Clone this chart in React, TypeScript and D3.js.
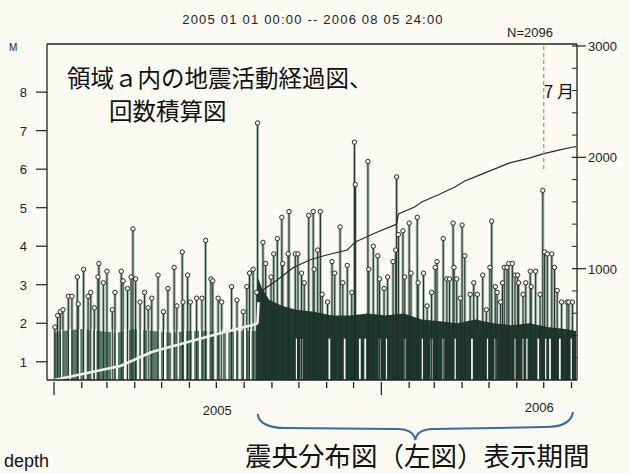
import React, { useRef, useEffect } from "react";
import * as d3 from "d3";

const START = new Date(2005, 0, 1);
const END_DAY = 582; // 2006-08-05 24:00
const MAINSHOCK_DAY = 227; // 2005-08-16

// [days since 2005-01-01, magnitude]
const STEMS: [number, number][] = [
  [1, 1.9], [4, 2.2], [7, 2.3], [10, 2.35], [16, 2.7], [20, 2.7], [26, 3.2], [27, 2.5],
  [33, 3.4], [38, 2.7], [41, 2.8], [45, 2.4], [49, 3.2], [50, 3.55], [55, 3.05], [59, 3.35],
  [65, 2.35], [68, 2.8], [75, 3.35], [77, 3.1], [82, 2.9], [86, 3.2], [88, 4.45], [91, 3.15],
  [96, 2.55], [101, 2.8], [105, 2.4], [109, 2.65], [116, 3.25], [122, 2.3], [127, 2.9],
  [134, 3.45], [137, 2.45], [143, 3.85], [144, 2.55], [149, 3.25], [152, 2.55], [159, 2.65],
  [165, 2.65], [169, 4.15], [175, 3.15], [177, 3.1], [183, 2.65], [187, 2.55], [198, 2.95],
  [204, 2.6], [211, 2.3], [215, 2.95], [218, 3.3], [222, 3.4], [226, 2.8],
  [227, 7.2], [233, 4.1], [236, 3.55], [242, 3.2], [245, 3.8], [249, 4.2], [254, 4.75],
  [255, 3.55], [262, 4.9], [261, 3.8], [269, 3.8], [272, 3.8], [276, 3.3], [279, 3.05],
  [284, 4.8], [289, 4.9], [290, 3.4], [294, 3.9], [297, 4.9], [299, 2.75], [305, 2.55],
  [310, 3.6], [313, 3.3], [319, 4.5], [322, 3.05], [327, 3.5], [332, 2.8], [335, 6.7],
  [336, 5.6], [350, 6.2], [351, 3.4], [356, 4.0], [361, 3.75], [363, 3.15], [368, 2.9],
  [372, 3.2], [378, 3.6], [382, 5.8], [381, 3.9], [384, 4.3], [389, 4.4], [391, 3.2],
  [396, 4.6], [398, 3.3], [405, 4.75], [406, 3.05], [412, 3.3], [416, 2.45], [421, 2.8],
  [425, 3.45], [427, 3.6], [434, 4.2], [438, 3.15], [441, 3.15], [445, 4.6], [446, 3.45],
  [449, 3.15], [453, 2.65], [455, 4.55], [458, 3.75], [464, 2.75], [468, 3.05], [472, 2.75],
  [478, 3.25], [482, 2.35], [486, 3.45], [488, 4.65], [492, 2.95], [494, 2.8], [498, 2.55],
  [500, 3.05], [502, 3.45], [505, 3.45], [507, 3.55], [511, 3.55], [514, 3.25], [517, 3.25],
  [518, 3.05], [523, 2.75], [526, 3.05], [531, 3.35], [532, 2.95], [537, 3.35], [542, 2.75],
  [545, 5.45], [547, 3.85], [550, 3.8], [555, 3.8], [558, 3.45], [561, 2.85], [566, 2.55],
  [572, 2.55], [574, 2.55], [578, 2.55],
];

// upper edge of the dense mass of small events
const MASS_PRE: [number, number][] = [
  [0, 1.75], [10, 1.8], [30, 1.85], [50, 1.8], [70, 1.75], [90, 1.85], [110, 1.8],
  [130, 1.75], [150, 1.8], [170, 1.8], [190, 1.75], [210, 1.8], [227, 1.8],
];
const MASS_POST: [number, number][] = [
  [227, 3.2], [232, 2.9], [240, 2.6], [255, 2.45], [270, 2.35], [290, 2.3], [310, 2.2],
  [330, 2.2], [350, 2.25], [370, 2.2], [390, 2.25], [410, 2.1], [430, 2.05], [450, 2.0],
  [470, 2.1], [490, 2.0], [510, 1.95], [530, 2.0], [550, 1.9], [570, 1.85], [582, 1.8],
];

// white gaps between events inside the dense mass
const GAPS_PRE = [9, 18, 28, 35, 42, 46, 65, 70, 79, 82, 94, 98, 105, 118, 124, 132, 138,
  146, 155, 163, 172, 180, 187, 193, 202, 207, 213, 219];
const GAPS_POST = [270, 276, 307, 324, 341, 347, 363, 371, 391, 411, 421, 434, 447, 466,
  483, 492, 514, 523, 527, 540, 548, 553, 564, 577];

// cumulative number of events
const CUM_DAYS = [0, 74, 109, 182, 226, 227, 228, 233, 249, 266, 285, 304, 327, 336, 358,
  380, 382, 384, 402, 410, 428, 447, 458, 475, 508, 531, 545, 564, 579, 582];
const CUM_COUNTS = [0, 126, 252, 413, 503, 520, 700, 809, 898, 1006, 1078, 1123, 1168, 1240,
  1321, 1393, 1402, 1491, 1554, 1599, 1662, 1734, 1788, 1842, 1950, 1995, 2031, 2067, 2093, 2096];

const M_TICKS = [1, 2, 3, 4, 5, 6, 7, 8];
const N_TICKS = [0, 1000, 2000, 3000];
const YEAR_LABELS: [string, number][] = [["2005", 182], ["2006", 541]];

const NUM_FONT = "'Liberation Sans', Arial, sans-serif";
const JP_FONT = "'Noto Sans CJK JP', sans-serif";

export default function App() {
  const svgRef = useRef<SVGSVGElement>(null);
  const width = 630;
  const height = 473;

  useEffect(() => {
    if (!svgRef.current) return;
    const svg = d3.select(svgRef.current);
    svg.selectAll("*").remove();

    const left = 47, right = 577, top = 44, bottom = 380;

    svg.append("rect").attr("width", width).attr("height", height).attr("fill", "#fbfbf4");

    const x = d3.scaleLinear().domain([0, END_DAY]).range([54, 576]);
    const y = d3.scaleLinear().domain([0.5, 9.25]).range([381, top]);
    const yN = d3.scaleLinear().domain([0, 3000]).range([bottom, 46]);

    // stem glow (light grey-green body)
    svg.append("g")
      .selectAll("line")
      .data(STEMS)
      .join("line")
      .attr("x1", (d) => x(d[0]))
      .attr("x2", (d) => x(d[0]))
      .attr("y1", bottom)
      .attr("y2", (d) => y(d[1]))
      .attr("stroke", "#a7baae")
      .attr("stroke-width", 3);

    // dense mass of small events
    const area = d3.area<[number, number]>()
      .x((d) => x(d[0]))
      .y0(bottom)
      .y1((d) => y(d[1]));
    svg.append("path").datum(MASS_PRE).attr("d", area).attr("fill", "#587a69");
    svg.append("path").datum(MASS_POST).attr("d", area).attr("fill", "#1e3a30");

    const gaps = svg.append("g").attr("stroke", "#f4f5ee");
    gaps.selectAll("line.pre")
      .data(GAPS_PRE)
      .join("line")
      .attr("class", "pre")
      .attr("x1", (d) => x(d)).attr("x2", (d) => x(d))
      .attr("y1", bottom).attr("y2", y(1.85))
      .attr("stroke-width", 2.4);
    gaps.selectAll("line.post")
      .data(GAPS_POST)
      .join("line")
      .attr("class", "post")
      .attr("x1", (d) => x(d)).attr("x2", (d) => x(d))
      .attr("y1", bottom).attr("y2", y(1.6))
      .attr("stroke-width", 1.8);

    // dark stems
    svg.append("g")
      .selectAll("line")
      .data(STEMS)
      .join("line")
      .attr("x1", (d) => x(d[0]))
      .attr("x2", (d) => x(d[0]))
      .attr("y1", bottom)
      .attr("y2", (d) => y(d[1]))
      .attr("stroke", "#1f2f28")
      .attr("stroke-width", 1);

    // cumulative curve
    const cum = CUM_DAYS.map((d, i) => [d, CUM_COUNTS[i]] as [number, number]);
    const cumLine = d3.line<[number, number]>().x((d) => x(d[0])).y((d) => yN(d[1]));
    svg.append("path").datum(cum).attr("d", cumLine)
      .attr("fill", "none").attr("stroke", "#2a2a2a").attr("stroke-width", 1.2);
    svg.append("path").datum(cum.filter((d) => d[0] <= MAINSHOCK_DAY + 1)).attr("d", cumLine)
      .attr("fill", "none").attr("stroke", "#eef0e8").attr("stroke-width", 2.6);

    // circles at stem tops
    svg.append("g")
      .selectAll("circle")
      .data(STEMS)
      .join("circle")
      .attr("cx", (d) => x(d[0]))
      .attr("cy", (d) => y(d[1]))
      .attr("r", 2.2)
      .attr("fill", "#f3f3ea")
      .attr("stroke", "#2a2a2a")
      .attr("stroke-width", 1);

    // July marker
    const julyDay = d3.timeDay.count(START, new Date(2006, 6, 1));
    svg.append("line")
      .attr("x1", x(julyDay)).attr("x2", x(julyDay))
      .attr("y1", top + 2).attr("y2", 172)
      .attr("stroke", "#e8835a").attr("stroke-width", 1.3)
      .attr("stroke-dasharray", "4,3");

    // frame
    const frame = svg.append("g").attr("stroke", "#222").attr("stroke-width", 1.3);
    frame.append("line").attr("x1", left).attr("x2", right).attr("y1", top).attr("y2", top);
    frame.append("line").attr("x1", left).attr("x2", left).attr("y1", top).attr("y2", bottom);
    frame.append("line").attr("x1", left).attr("x2", right).attr("y1", bottom).attr("y2", bottom);
    frame.append("line").attr("x1", right).attr("x2", right).attr("y1", top).attr("y2", bottom);

    // left M axis
    const lAxis = svg.append("g");
    lAxis.selectAll("line")
      .data(M_TICKS)
      .join("line")
      .attr("x1", left - 11).attr("x2", left)
      .attr("y1", (d) => y(d)).attr("y2", (d) => y(d))
      .attr("stroke", "#222").attr("stroke-width", 1.2);
    lAxis.selectAll("text")
      .data(M_TICKS)
      .join("text")
      .attr("x", 27).attr("y", (d) => y(d) + 5)
      .attr("text-anchor", "end")
      .style("font-family", NUM_FONT).style("font-size", "13px").style("fill", "#222")
      .text((d) => d);
    svg.append("text").attr("x", 9).attr("y", 51)
      .style("font-family", NUM_FONT).style("font-size", "10px").style("fill", "#222")
      .text("M");

    // right cumulative axis
    const rAxis = svg.append("g");
    rAxis.selectAll("line.minor")
      .data(d3.range(200, 3000, 200).filter((v) => v % 1000 !== 0))
      .join("line")
      .attr("class", "minor")
      .attr("x1", right - 5).attr("x2", right)
      .attr("y1", (d) => yN(d)).attr("y2", (d) => yN(d))
      .attr("stroke", "#222").attr("stroke-width", 1);
    rAxis.selectAll("line.major")
      .data(N_TICKS.filter((v) => v > 0))
      .join("line")
      .attr("class", "major")
      .attr("x1", right - 5).attr("x2", right + 9)
      .attr("y1", (d) => yN(d)).attr("y2", (d) => yN(d))
      .attr("stroke", "#222").attr("stroke-width", 1.2);
    rAxis.selectAll("text")
      .data(N_TICKS.filter((v) => v > 0))
      .join("text")
      .attr("x", right + 11).attr("y", (d) => yN(d) + 5)
      .style("font-family", NUM_FONT).style("font-size", "13px").style("fill", "#222")
      .text((d) => d);

    // bottom month ticks
    const months = d3.timeMonth.range(START, new Date(2006, 7, 6));
    svg.append("g")
      .selectAll("line")
      .data(months)
      .join("line")
      .attr("x1", (d) => x(d3.timeDay.count(START, d)))
      .attr("x2", (d) => x(d3.timeDay.count(START, d)))
      .attr("y1", bottom + 2)
      .attr("y2", (d) => (d.getMonth() === 0 ? bottom + 15 : bottom + 8))
      .attr("stroke", "#222").attr("stroke-width", 1.3);
    svg.append("g")
      .selectAll("text")
      .data(YEAR_LABELS)
      .join("text")
      .attr("x", (d) => x(d[1])).attr("y", (d) => (d[0] === "2005" ? 415 : 412))
      .attr("text-anchor", "middle")
      .style("font-family", NUM_FONT).style("font-size", "13px").style("fill", "#222")
      .text((d) => d[0]);

    // header texts
    svg.append("text").attr("x", 313).attr("y", 24).attr("text-anchor", "middle")
      .style("font-family", NUM_FONT).style("font-size", "13px").style("fill", "#222")
      .style("letter-spacing", "1.2px")
      .text("2005 01 01 00:00 -- 2006 08 05 24:00");
    svg.append("text").attr("x", 507).attr("y", 37)
      .style("font-family", NUM_FONT).style("font-size", "13px").style("fill", "#222")
      .text("N=2096");

    // titles inside plot
    svg.append("text").attr("x", 67).attr("y", 87)
      .style("font-family", JP_FONT).style("font-size", "23.5px").style("fill", "#111")
      .text("領域ａ内の地震活動経過図、");
    svg.append("text").attr("x", 109).attr("y", 120)
      .style("font-family", JP_FONT).style("font-size", "23.5px").style("fill", "#111")
      .text("回数積算図");
    svg.append("text").attr("x", 574).attr("y", 98).attr("text-anchor", "end")
      .style("font-family", JP_FONT).style("font-size", "17px").style("fill", "#111")
      .text("7 月");

    // brace for the epicentre map period
    const bx0 = x(MAINSHOCK_DAY), bx1 = x(END_DAY) - 3, bm = (bx0 + bx1) / 2;
    svg.append("path")
      .attr("d", `M${bx0},414 Q${bx0 + 2},428 ${bx0 + 28},428 L${bm - 18},429 Q${bm - 2},429 ${bm},440 Q${bm + 2},429 ${bm + 18},429 L${bx1 - 28},427 Q${bx1 - 2},427 ${bx1},412`)
      .attr("fill", "none").attr("stroke", "#3a6aa3").attr("stroke-width", 2);
    svg.append("text").attr("x", 245).attr("y", 466)
      .style("font-family", JP_FONT).style("font-size", "26.5px").style("fill", "#111")
      .text("震央分布図（左図）表示期間");
    svg.append("text").attr("x", 4).attr("y", 467)
      .style("font-family", NUM_FONT).style("font-size", "18px").style("fill", "#111")
      .text("depth");
  }, []);

  return (
    <svg
      ref={svgRef}
      width={width}
      height={height}
      style={{ position: "absolute", left: 0, top: 0, display: "block" }}
      viewBox={`0 0 ${width} ${height}`}
    />
  );
}
